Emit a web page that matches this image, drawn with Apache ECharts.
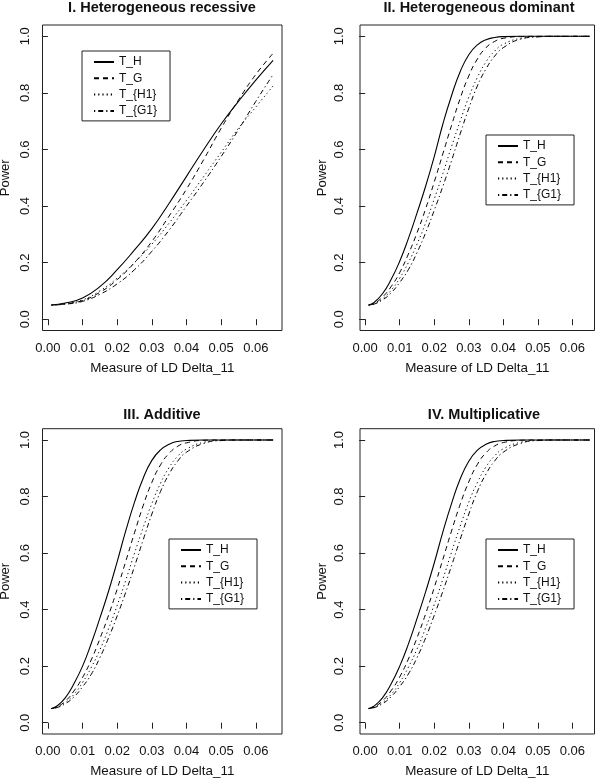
<!DOCTYPE html>
<html>
<head>
<meta charset="utf-8">
<script src="https://cdn.jsdelivr.net/npm/echarts@6/dist/echarts.min.js"></script>
<style>html,body{margin:0;padding:0;background:#fff}#c{width:600px;height:779px}</style>
</head>
<body>
<div id="c"></div>
<script>
// ---- data ----
const seriesNames = ['T_H', 'T_G', 'T_{H1}', 'T_{G1}'];
const panelTitles = ['I. Heterogeneous recessive', 'II. Heterogeneous dominant', 'III. Additive', 'IV. Multiplicative'];
const xTitle = 'Measure of LD Delta_11';
const yTitle = 'Power';
const xTicks = [0, 0.01, 0.02, 0.03, 0.04, 0.05, 0.06];
const yTicks = [0, 0.2, 0.4, 0.6, 0.8, 1.0];

// Panel I : heterogeneous recessive
const xRec = [0.001, 0.005, 0.01, 0.015, 0.02, 0.025, 0.03, 0.035, 0.04, 0.045, 0.05, 0.055, 0.06, 0.065];
const recTH  = [0.05, 0.057, 0.075, 0.115, 0.175, 0.245, 0.32, 0.41, 0.505, 0.60, 0.69, 0.77, 0.845, 0.915];
const recTG  = [0.05, 0.054, 0.066, 0.095, 0.14, 0.20, 0.275, 0.365, 0.46, 0.565, 0.675, 0.775, 0.865, 0.94];
const recTH1 = [0.05, 0.055, 0.068, 0.10, 0.145, 0.20, 0.265, 0.34, 0.42, 0.505, 0.59, 0.675, 0.75, 0.825];
const recTG1 = [0.05, 0.053, 0.063, 0.088, 0.125, 0.175, 0.24, 0.315, 0.40, 0.485, 0.575, 0.67, 0.77, 0.865];

// Panels II-IV share the x grid
const xSteep = [0.001, 0.0025, 0.005, 0.0075, 0.01, 0.0125, 0.015, 0.0175, 0.02, 0.0225, 0.025, 0.0275, 0.03, 0.0325, 0.035, 0.0375, 0.04, 0.045, 0.05, 0.055, 0.06, 0.065];
// Panel II : heterogeneous dominant
const domTH  = [0.05, 0.058, 0.09, 0.14, 0.205, 0.285, 0.375, 0.47, 0.575, 0.69, 0.79, 0.875, 0.935, 0.97, 0.988, 0.996, 0.999, 1, 1, 1, 1, 1];
const domTG  = [0.05, 0.055, 0.078, 0.115, 0.165, 0.23, 0.305, 0.39, 0.485, 0.585, 0.685, 0.78, 0.86, 0.92, 0.96, 0.982, 0.993, 0.999, 1, 1, 1, 1];
const domTH1 = [0.05, 0.054, 0.072, 0.102, 0.145, 0.20, 0.265, 0.34, 0.425, 0.515, 0.61, 0.70, 0.785, 0.855, 0.91, 0.948, 0.972, 0.993, 0.999, 1, 1, 1];
const domTG1 = [0.05, 0.053, 0.068, 0.093, 0.13, 0.175, 0.235, 0.305, 0.385, 0.47, 0.56, 0.655, 0.745, 0.825, 0.885, 0.93, 0.96, 0.99, 0.998, 1, 1, 1];
// Panel III : additive
const addTH  = [0.05, 0.058, 0.088, 0.138, 0.20, 0.28, 0.37, 0.465, 0.57, 0.68, 0.78, 0.865, 0.928, 0.965, 0.985, 0.995, 0.998, 1, 1, 1, 1, 1];
const addTG  = [0.05, 0.055, 0.076, 0.112, 0.16, 0.222, 0.297, 0.38, 0.473, 0.572, 0.672, 0.768, 0.85, 0.912, 0.953, 0.978, 0.99, 0.999, 1, 1, 1, 1];
const addTH1 = [0.05, 0.054, 0.071, 0.10, 0.142, 0.195, 0.258, 0.332, 0.415, 0.505, 0.60, 0.69, 0.775, 0.847, 0.903, 0.943, 0.968, 0.992, 0.999, 1, 1, 1];
const addTG1 = [0.05, 0.053, 0.067, 0.091, 0.127, 0.171, 0.23, 0.30, 0.378, 0.463, 0.553, 0.647, 0.738, 0.818, 0.88, 0.926, 0.957, 0.988, 0.998, 1, 1, 1];
// Panel IV : multiplicative
const mulTH  = [0.05, 0.058, 0.088, 0.137, 0.20, 0.278, 0.368, 0.463, 0.565, 0.675, 0.775, 0.862, 0.925, 0.964, 0.985, 0.995, 0.998, 1, 1, 1, 1, 1];
const mulTG  = [0.05, 0.055, 0.077, 0.113, 0.162, 0.225, 0.30, 0.385, 0.478, 0.578, 0.678, 0.772, 0.852, 0.914, 0.955, 0.979, 0.991, 0.999, 1, 1, 1, 1];
const mulTH1 = [0.05, 0.054, 0.071, 0.10, 0.142, 0.196, 0.26, 0.335, 0.418, 0.508, 0.603, 0.695, 0.78, 0.85, 0.905, 0.944, 0.969, 0.992, 0.999, 1, 1, 1];
const mulTG1 = [0.05, 0.053, 0.067, 0.092, 0.128, 0.172, 0.23, 0.30, 0.38, 0.465, 0.555, 0.648, 0.738, 0.818, 0.88, 0.926, 0.957, 0.988, 0.998, 1, 1, 1];

// ---- layout / style ----
const FONT = 'Liberation Sans, Arial, Helvetica, sans-serif';
const INK = '#111';
const panels = [
  {x: xRec,   ys: [recTH, recTG, recTH1, recTG1], grid: {left: 42.5, top: 25,    width: 239.5, height: 305.5}, xmin: -0.00156, xmax: 0.06756, title: {left: 162, top: 0.5},  legend: {left: 82,  top: 51},  ylm: 11},
  {x: xSteep, ys: [domTH, domTG, domTH1, domTG1], grid: {left: 360,  top: 25,    width: 234.5, height: 305.5}, xmin: -0.0015,  xmax: 0.0664,  title: {left: 479, top: 0.5},  legend: {left: 486, top: 135}, ylm: 14},
  {x: xSteep, ys: [addTH, addTG, addTH1, addTG1], grid: {left: 42.5, top: 428.7, width: 239.5, height: 305.3}, xmin: -0.00156, xmax: 0.06756, title: {left: 162, top: 407.5}, legend: {left: 169, top: 539}, ylm: 11},
  {x: xSteep, ys: [mulTH, mulTG, mulTH1, mulTG1], grid: {left: 360,  top: 428.7, width: 234.5, height: 305.3}, xmin: -0.0015,  xmax: 0.0664,  title: {left: 484, top: 407.5}, legend: {left: 486, top: 539}, ylm: 14}
];
const lineTypes = ['solid', [5, 4], [1.2, 3], [1.2, 3, 5, 3]];

const option = {
  animation: false,
  backgroundColor: '#fff',
  textStyle: {fontFamily: FONT},
  title: panels.map((p, i) => ({
    text: panelTitles[i], left: p.title.left, top: p.title.top, textAlign: 'center', padding: 0,
    textStyle: {fontFamily: FONT, fontWeight: 'bold', fontSize: 14.5, color: INK}
  })),
  legend: panels.map(p => ({
    orient: 'vertical', left: p.legend.left, top: p.legend.top,
    data: seriesNames, selectedMode: false,
    itemWidth: 20, itemHeight: 12, itemGap: 4.3,
    padding: [5, 13, 4, 11],
    borderColor: '#222', borderWidth: 1, borderRadius: 0, backgroundColor: '#fff',
    itemStyle: {opacity: 0, borderWidth: 0},
    textStyle: {fontFamily: FONT, fontSize: 12, color: INK}
  })),
  grid: panels.map(p => Object.assign({show: true, borderColor: '#222', borderWidth: 1, backgroundColor: 'transparent', containLabel: false, outerBoundsMode: 'none'}, p.grid)),
  xAxis: panels.map((p, i) => ({
    type: 'value', gridIndex: i, min: p.xmin, max: p.xmax,
    name: xTitle, nameLocation: 'middle', nameGap: 31,
    nameTextStyle: {fontFamily: FONT, fontSize: 13.4, color: INK},
    axisLine: {show: false},
    axisTick: {show: true, inside: false, length: 6, customValues: xTicks, lineStyle: {color: '#222', width: 1}},
    axisLabel: {show: true, margin: 11, customValues: xTicks, formatter: v => v.toFixed(2), fontFamily: FONT, fontSize: 13, color: INK},
    splitLine: {show: false}
  })),
  yAxis: panels.map((p, i) => ({
    type: 'value', gridIndex: i, min: -0.04, max: 1.04,
    name: yTitle, nameLocation: 'middle', nameGap: 31,
    nameTextStyle: {fontFamily: FONT, fontSize: 13, color: INK},
    axisLine: {show: false},
    axisTick: {show: true, inside: false, length: 6, customValues: yTicks, lineStyle: {color: '#222', width: 1}},
    axisLabel: {show: true, margin: p.ylm, rotate: 90, customValues: yTicks, formatter: v => v.toFixed(1), fontFamily: FONT, fontSize: 13, color: INK},
    splitLine: {show: false}
  })),
  series: []
};

panels.forEach((p, i) => {
  p.ys.forEach((vals, k) => {
    option.series.push({
      type: 'line', name: seriesNames[k], xAxisIndex: i, yAxisIndex: i,
      data: p.x.map((xv, j) => [xv, vals[j]]),
      showSymbol: false, symbol: 'none', smooth: 0.5,
      lineStyle: {color: '#000', width: k === 0 ? 1.1 : 1, type: lineTypes[k]},
      itemStyle: {color: '#000'},
      emphasis: {disabled: true}
    });
  });
});

const chart = echarts.init(document.getElementById('c'), null, {renderer: 'canvas'});
chart.setOption(option);
</script>
</body>
</html>
